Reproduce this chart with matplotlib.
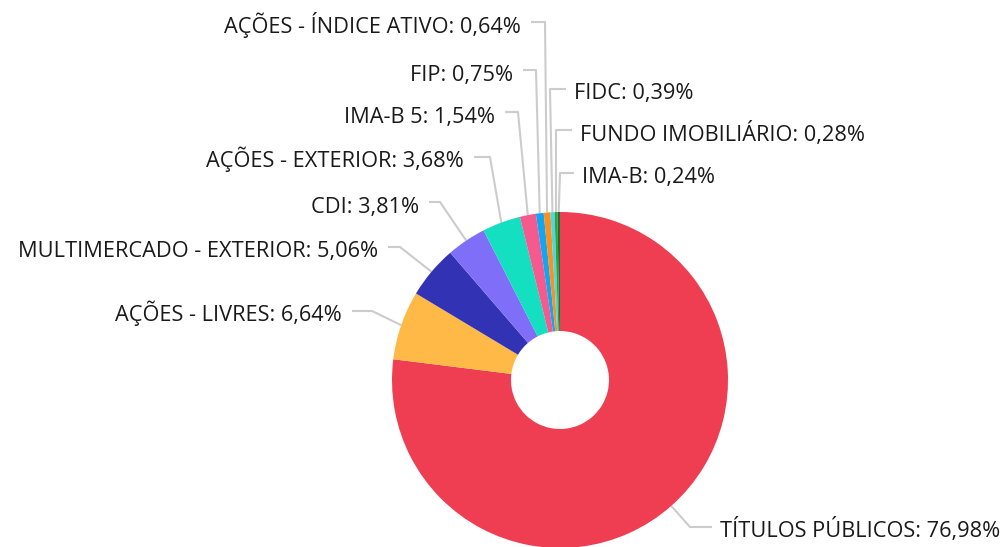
import matplotlib
matplotlib.use("Agg")
import matplotlib.pyplot as plt
import numpy as np

plt.rcParams['font.family'] = ['Open Sans', 'DejaVu Sans']

# data (clockwise from the top)
labels = ['TÍTULOS PÚBLICOS', 'AÇÕES - LIVRES', 'MULTIMERCADO - EXTERIOR', 'CDI',
          'AÇÕES - EXTERIOR', 'IMA-B 5', 'FIP', 'AÇÕES - ÍNDICE ATIVO', 'FIDC',
          'FUNDO IMOBILIÁRIO', 'IMA-B']
values = [76.98, 6.64, 5.06, 3.81, 3.68, 1.54, 0.75, 0.64, 0.39, 0.28, 0.24]
colors = ['#ef3d52', '#ffb946', '#3232b4', '#7f6ef7', '#14dfc0', '#f45a8e',
          '#13a5f0', '#f7921e', '#52d3e6', '#2aa836', '#1e6e37']

# label layout in pixel coords: (elbow x, elbow y, text x, side)
label_pos = [
    (690, 527, 720, 'right'),
    (372, 311, 342, 'left'),
    (400, 247, 378, 'left'),
    (440, 202, 419, 'left'),
    (490, 157, 464, 'left'),
    (518, 112, 495, 'left'),
    (536, 70, 513, 'left'),
    (545, 22, 521, 'left'),
    (550, 89, 574, 'right'),
    (556, 130, 580, 'right'),
    (560, 173, 582, 'right'),
]

W, H = 1005, 547
cx, cy, R, r_in = 560, 380, 168, 49

fig = plt.figure(figsize=(W / 100, H / 100), dpi=100)
ax = fig.add_axes([0, 0, 1, 1])

wedges, _ = ax.pie(values, colors=colors, startangle=-90, counterclock=True,
                   center=(cx, cy), radius=R, normalize=True,
                   wedgeprops=dict(width=R - r_in, linewidth=0))
ax.set_xlim(0, W)
ax.set_ylim(H, 0)
ax.set_aspect('auto')
ax.axis('off')
for w in wedges:
    w.set_clip_on(False)

for w, lab, val, (ex, ey, tx, side) in zip(wedges, labels, values, label_pos):
    th = np.deg2rad((w.theta1 + w.theta2) / 2)
    px, py = cx + R * np.cos(th), cy + R * np.sin(th)
    lx = tx - 8 if side == 'right' else tx + 10
    ax.plot([px, ex, lx], [py, ey, ey], color='#cccccc', lw=1.5,
            solid_capstyle='butt', zorder=0, clip_on=False)
    txt = f"{lab}: {val:.2f}".replace('.', ',') + '%'
    ax.text(tx, ey + 10.5, txt, ha='left' if side == 'right' else 'right',
            va='baseline', fontsize=15.7, color='#1a1a1a')

fig.savefig('out.png', dpi=100)
